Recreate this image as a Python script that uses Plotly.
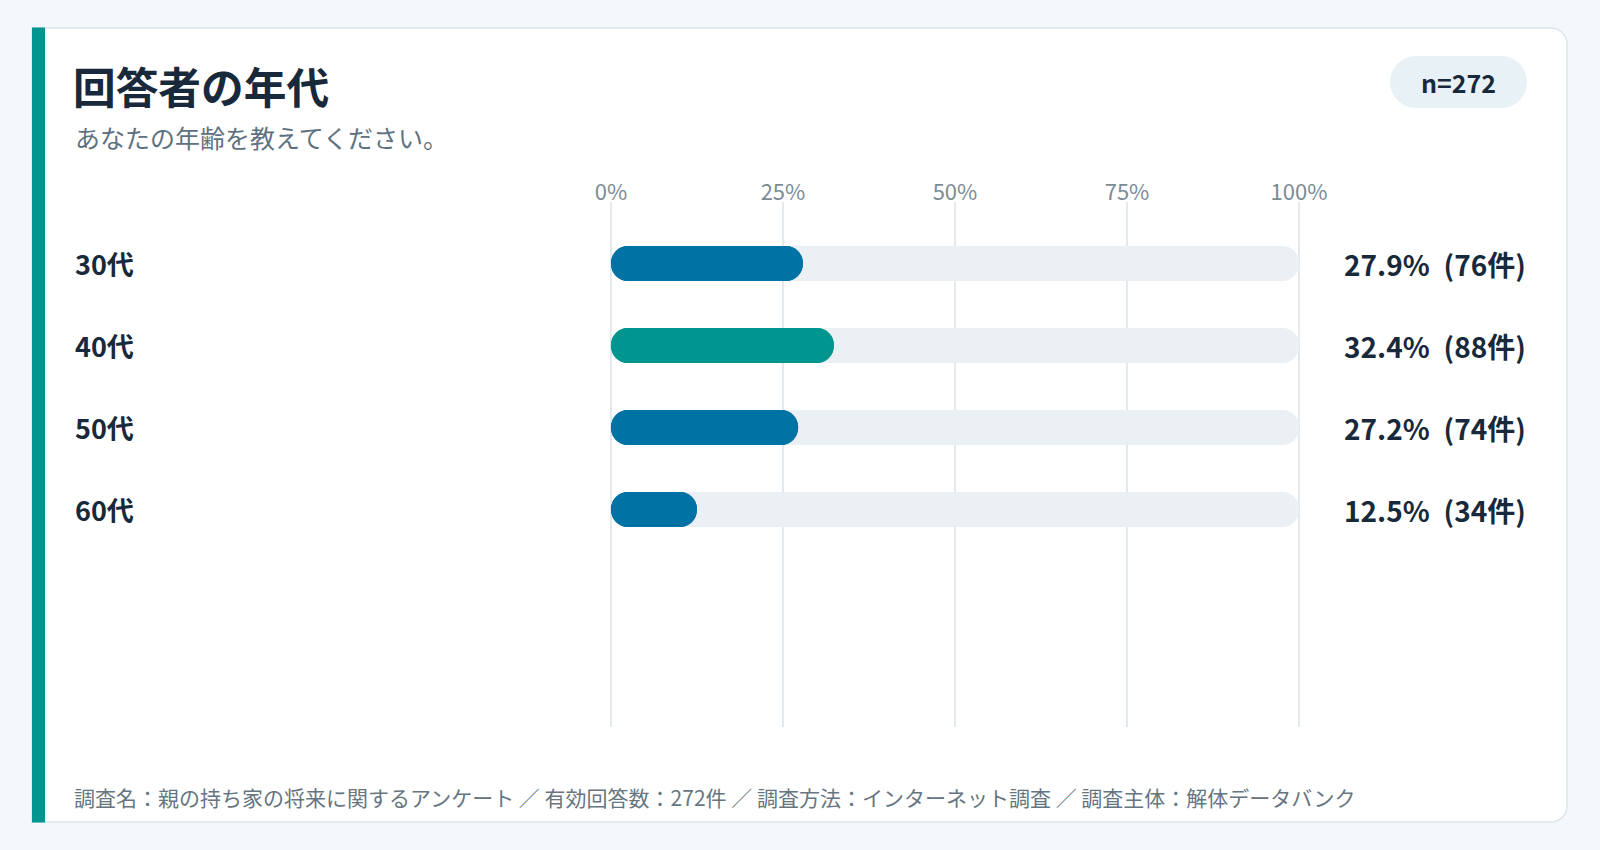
import plotly.graph_objects as go

# ---- data ----
categories = ["30代", "40代", "50代", "60代"]
percent = [27.9, 32.4, 27.2, 12.5]
counts = [76, 88, 74, 34]
total_n = 272
tick_values = [0, 25, 50, 75, 100]
tick_labels = ["0%", "25%", "50%", "75%", "100%"]
title_text = "回答者の年代"
subtitle_text = "あなたの年齢を教えてください。"
footer_text = "調査名：親の持ち家の将来に関するアンケート ／ 有効回答数：272件 ／ 調査方法：インターネット調査 ／ 調査主体：解体データバンク"

# ---- styling ----
W, H = 1600, 850
FONT = "Noto Sans CJK JP"
DARK = "#17293a"
BLUE = "#0072a3"
TEAL = "#00968f"
TRACK = "#ebf0f4"
GRID = "#e3e9ee"


def X(px):
    return px / W


def Y(py):
    return 1 - py / H


def rounded_path(x0, y0, x1, y1, rtl=0, rtr=0, rbr=0, rbl=0):
    k = 0.5523
    p = []
    p.append(f"M {X(x0 + rtl)},{Y(y0)}")
    p.append(f"L {X(x1 - rtr)},{Y(y0)}")
    if rtr:
        p.append(f"C {X(x1 - rtr + rtr * k)},{Y(y0)} {X(x1)},{Y(y0 + rtr - rtr * k)} {X(x1)},{Y(y0 + rtr)}")
    p.append(f"L {X(x1)},{Y(y1 - rbr)}")
    if rbr:
        p.append(f"C {X(x1)},{Y(y1 - rbr + rbr * k)} {X(x1 - rbr + rbr * k)},{Y(y1)} {X(x1 - rbr)},{Y(y1)}")
    p.append(f"L {X(x0 + rbl)},{Y(y1)}")
    if rbl:
        p.append(f"C {X(x0 + rbl - rbl * k)},{Y(y1)} {X(x0)},{Y(y1 - rbl + rbl * k)} {X(x0)},{Y(y1 - rbl)}")
    p.append(f"L {X(x0)},{Y(y0 + rtl)}")
    if rtl:
        p.append(f"C {X(x0)},{Y(y0 + rtl - rtl * k)} {X(x0 + rtl - rtl * k)},{Y(y0)} {X(x0 + rtl)},{Y(y0)}")
    p.append("Z")
    return " ".join(p)


max_val = max(percent)
bar_colors = [TEAL if v == max_val else BLUE for v in percent]
full = [100 for _ in categories]

BAR_W = 0.427
fig = go.Figure()

# track (both ends rounded: two overlaid bars)
fig.add_trace(go.Bar(y=categories, x=full, base=[0] * len(categories), orientation="h",
                     width=BAR_W, marker=dict(color=TRACK, cornerradius="50%", line=dict(width=0)),
                     hoverinfo="skip", showlegend=False))
fig.add_trace(go.Bar(y=categories, x=[-v for v in full], base=full, orientation="h",
                     width=BAR_W, marker=dict(color=TRACK, cornerradius="50%", line=dict(width=0)),
                     hoverinfo="skip", showlegend=False))
# value bars
fig.add_trace(go.Bar(y=categories, x=percent, base=[0] * len(categories), orientation="h",
                     width=BAR_W, marker=dict(color=bar_colors, cornerradius="50%", line=dict(width=0)),
                     hoverinfo="skip", showlegend=False))
fig.add_trace(go.Bar(y=categories, x=[-v for v in percent], base=percent, orientation="h",
                     width=BAR_W, marker=dict(color=bar_colors, cornerradius="50%", line=dict(width=0)),
                     hoverinfo="skip", showlegend=False))

shapes = [
    dict(type="path", xref="paper", yref="paper", layer="below",
         path=rounded_path(32, 28, 1567, 822, 0, 16, 16, 0),
         fillcolor="#ffffff", line=dict(color="#dce5eb", width=1.5)),
    dict(type="rect", xref="paper", yref="paper", layer="below",
         x0=X(32), x1=X(45), y0=Y(822.5), y1=Y(27.5),
         fillcolor=TEAL, line=dict(width=0)),
    dict(type="path", xref="paper", yref="paper", layer="below",
         path=rounded_path(1390, 56, 1527, 108, 26, 26, 26, 26),
         fillcolor="#e8f2f6", line=dict(width=0)),
]

annotations = [
    dict(text=f"<b>{title_text}</b>", x=X(71), y=Y(85), xref="paper", yref="paper",
         xanchor="left", yanchor="middle", showarrow=False,
         font=dict(family=FONT, size=42.7, color=DARK)),
    dict(text=subtitle_text, x=X(73), y=Y(137), xref="paper", yref="paper",
         xanchor="left", yanchor="middle", showarrow=False,
         font=dict(family=FONT, size=25, color="#5e7180")),
    dict(text=f"<b>n={total_n}</b>", x=X(1458.5), y=Y(82), xref="paper", yref="paper",
         xanchor="center", yanchor="middle", showarrow=False,
         font=dict(family=FONT, size=25, color=DARK)),
    dict(text=footer_text, x=X(72), y=Y(797), xref="paper", yref="paper",
         xanchor="left", yanchor="middle", showarrow=False,
         font=dict(family=FONT, size=21, color="#66757f")),
]
for cat, p, c in zip(categories, percent, counts):
    annotations.append(dict(text=f"<b>{cat}</b>", x=X(73), y=cat, xref="paper", yref="y",
                            xanchor="left", yanchor="middle", showarrow=False,
                            font=dict(family=FONT, size=27, color=DARK)))
    annotations.append(dict(text=f"<b>{p:.1f}%\u2002({c}件)</b>", x=X(1528), y=cat, xref="paper", yref="y",
                            xanchor="right", yanchor="middle", showarrow=False,
                            font=dict(family=FONT, size=28, color=DARK)))

n = len(categories)
fig.update_layout(
    template="none",
    width=W, height=H,
    autosize=False,
    margin=dict(l=0, r=0, t=0, b=0, pad=0, autoexpand=False),
    paper_bgcolor="#f4f8fb",
    plot_bgcolor="rgba(0,0,0,0)",
    barmode="overlay",
    showlegend=False,
    font=dict(family=FONT),
    shapes=shapes,
    annotations=annotations,
    xaxis=dict(domain=[X(608.9), X(1301.1)], range=[-0.3, 100.3], side="top",
               tickvals=tick_values, ticktext=tick_labels, automargin=False,
               showgrid=True, gridcolor=GRID, gridwidth=1.5, zeroline=False,
               showline=False, ticks="", ticklabelstandoff=-3,
               tickfont=dict(family=FONT, size=22, color="#7b8b96"), fixedrange=True),
    yaxis=dict(domain=[Y(727), Y(202)], type="category", automargin=False,
               categoryorder="array", categoryarray=categories,
               range=[n - 1 + (727 - 509.5) / 82, -61.5 / 82],
               showticklabels=False, showgrid=False, zeroline=False, showline=False,
               ticks="", fixedrange=True),
)

fig.write_html("out.html", config={"displayModeBar": False, "staticPlot": True},
               post_script="document.body.style.margin='0';document.body.style.overflow='hidden';")
